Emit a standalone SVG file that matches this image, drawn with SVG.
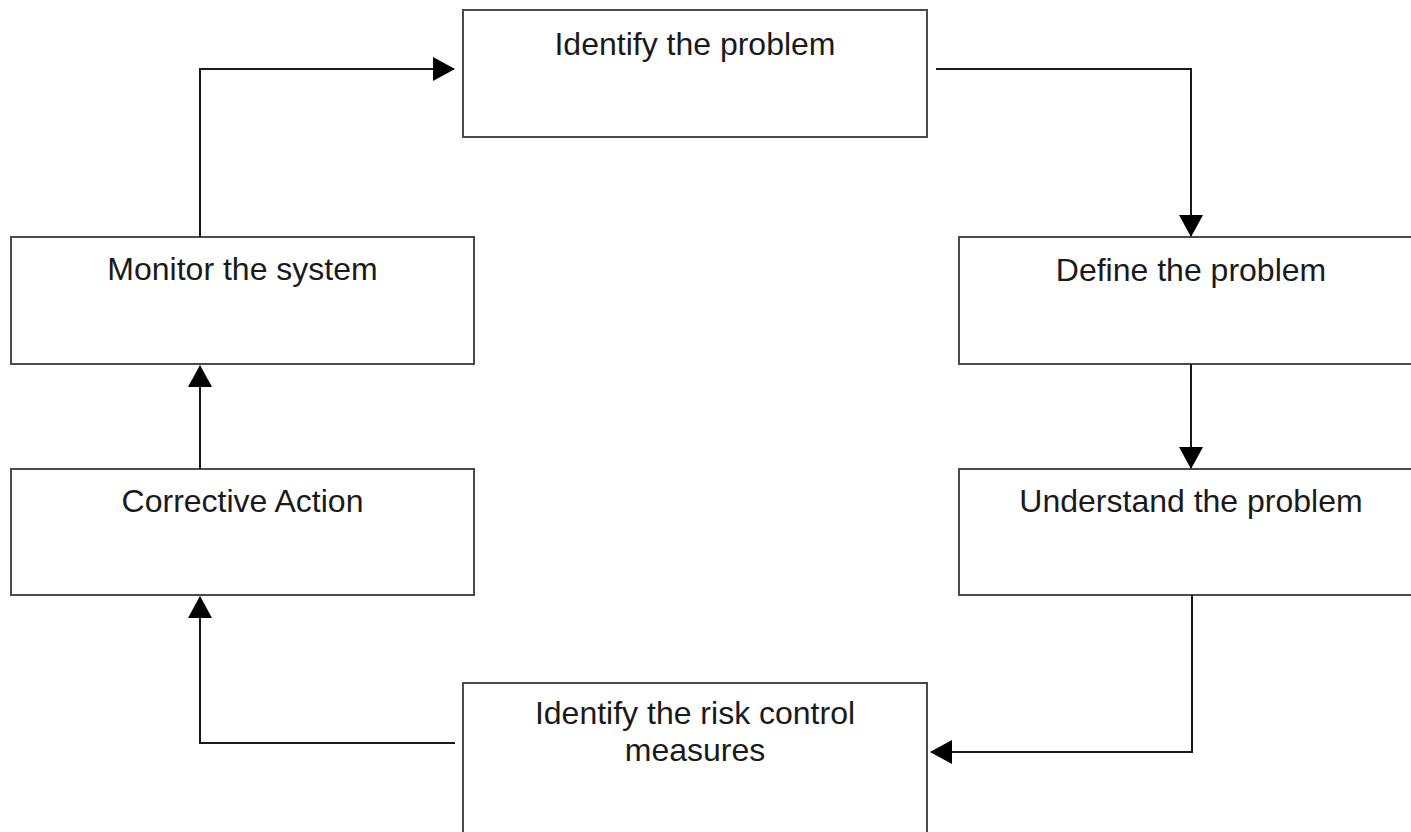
<svg xmlns="http://www.w3.org/2000/svg" width="1411" height="832" viewBox="0 0 1411 832">
<style>
.box{fill:#fff;stroke:#4a4a4a;stroke-width:2}
.lbl{font-family:"Liberation Sans",Arial,sans-serif;font-size:32px;fill:#1a1a1a;text-anchor:middle}
.con{fill:none;stroke:#1a1a1a;stroke-width:2}
</style>
<defs>
<marker id="arr" markerUnits="userSpaceOnUse" markerWidth="22" markerHeight="24" viewBox="0 0 22 24" refX="21" refY="12" orient="auto">
<path d="M0,0 L22,12 L0,24 Z" fill="#000"/>
</marker>
</defs>
<rect width="1411" height="832" fill="#fff"/>
<g id="n1"><rect class="box" x="463" y="10" width="464" height="127"/><text class="lbl" x="695" y="55">Identify the problem</text></g>
<g id="n2"><rect class="box" x="959" y="237" width="464" height="127"/><text class="lbl" x="1191" y="281">Define the problem</text></g>
<g id="n3"><rect class="box" x="959" y="469" width="464" height="126"/><text class="lbl" x="1191" y="512">Understand the problem</text></g>
<g id="n4"><rect class="box" x="463" y="683" width="464" height="170"/><text class="lbl" x="695" y="724">Identify the risk control</text><text class="lbl" x="695" y="761">measures</text></g>
<g id="n5"><rect class="box" x="11" y="469" width="463" height="126"/><text class="lbl" x="242.5" y="512">Corrective Action</text></g>
<g id="n6"><rect class="box" x="11" y="237" width="463" height="127"/><text class="lbl" x="242.5" y="280">Monitor the system</text></g>
<g id="connectors">
<path class="con" d="M936,69 H1191 V236" marker-end="url(#arr)"/>
<path class="con" d="M1191,364 V468" marker-end="url(#arr)"/>
<path class="con" d="M1192,595 V752 H931" marker-end="url(#arr)"/>
<path class="con" d="M455,743 H200 V597" marker-end="url(#arr)"/>
<path class="con" d="M200,469 V366" marker-end="url(#arr)"/>
<path class="con" d="M200,237 V69 H454" marker-end="url(#arr)"/>
</g>
</svg>
